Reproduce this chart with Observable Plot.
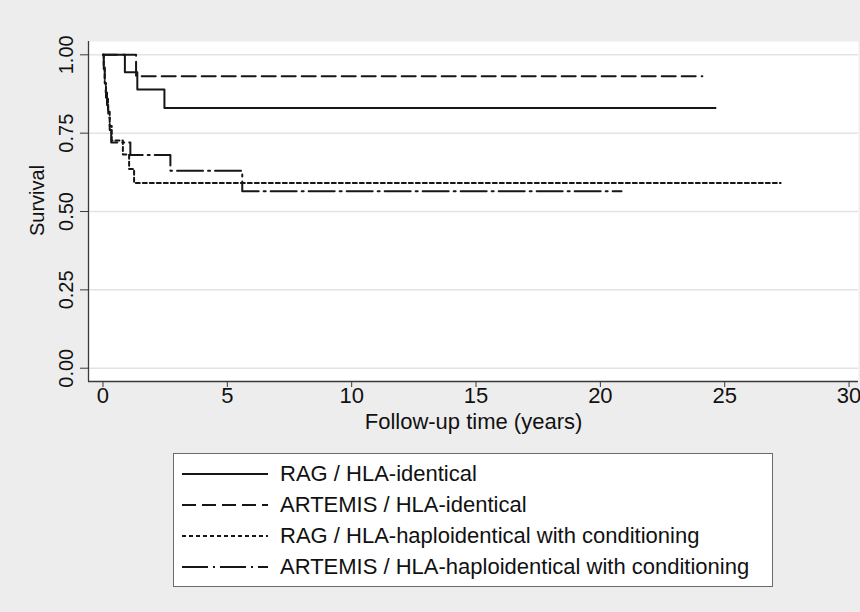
<!DOCTYPE html>
<html>
<head>
<meta charset="utf-8">
<script src="https://cdn.jsdelivr.net/npm/d3@7"></script>
<script src="https://cdn.jsdelivr.net/npm/@observablehq/plot@0.6"></script>
<style>
  html, body { margin: 0; padding: 0; background: #ededed; }
  body { font-family: "Liberation Sans", Arial, Helvetica, sans-serif; color: #111; }
  #wrap { position: relative; width: 860px; height: 612px; overflow: hidden; }
  #chart { position: absolute; left: 0; top: 0; }
  #legend { position: absolute; left: 173px; top: 453px; width: 598px; height: 132px;
            background: #ffffff; border: 1px solid #6a6a6a; }
  .row { position: absolute; left: 0; width: 598px; height: 30px; }
  .row svg { position: absolute; left: 8px; top: 13px; }
  .row span { position: absolute; left: 106px; top: 2px; font-size: 22px; line-height: 26px; white-space: nowrap; color: #111; }
</style>
</head>
<body>
<div id="wrap">
  <div id="chart"></div>
  <div id="legend"></div>
</div>
<script>
// ---- data ----
const seriesNames = [
  "RAG / HLA-identical",
  "ARTEMIS / HLA-identical",
  "RAG / HLA-haploidentical with conditioning",
  "ARTEMIS / HLA-haploidentical with conditioning"
];
const ragIdTime     = [0, 0.88, 1.38, 2.47, 24.63];
const ragIdSurv     = [1, 0.944, 0.889, 0.830, 0.830];
const artIdTime     = [0, 1.33, 24.10];
const artIdSurv     = [1, 0.932, 0.932];
const ragHaploTime  = [0, 0.03, 0.07, 0.12, 0.20, 0.27, 0.35, 0.80, 1.05, 1.25, 27.25];
const ragHaploSurv  = [1, 0.955, 0.909, 0.864, 0.818, 0.773, 0.727, 0.682, 0.636, 0.591, 0.591];
const artHaploTime  = [0, 0.03, 0.07, 0.11, 0.16, 0.21, 0.27, 0.33, 1.10, 2.71, 5.60, 20.85];
const artHaploSurv  = [1, 0.96, 0.92, 0.88, 0.84, 0.80, 0.76, 0.72, 0.68, 0.63, 0.565, 0.565];
const xTicks = [0, 5, 10, 15, 20, 25, 30];
const yTicks = [0, 0.25, 0.5, 0.75, 1];
const xTitle = "Follow-up time (years)";
const yTitle = "Survival";

// ---- styles ----
const dashes = [null, "14,6", "4,3", "26,5,2,5"];
const lineColor = "#161616";
const xDomain = [-0.583, 30.38];
const yDomain = [-0.0424, 1.0425];

const seriesData = [
  [ragIdTime, ragIdSurv],
  [artIdTime, artIdSurv],
  [ragHaploTime, ragHaploSurv],
  [artHaploTime, artHaploSurv]
].map(([t, s]) => t.map((v, i) => ({t: v, s: s[i]})));

const font = "'Liberation Sans', Arial, Helvetica, sans-serif";

const chart = Plot.plot({
  width: 860,
  height: 440,
  marginLeft: 88,
  marginRight: 2,
  marginTop: 41,
  marginBottom: 59,
  style: { background: "transparent", fontFamily: font, color: "#111", overflow: "visible" },
  x: { domain: xDomain },
  y: { domain: yDomain },
  marks: [
    Plot.frame({ fill: "white", stroke: null }),
    Plot.ruleY(yTicks, { stroke: "#e3e3e3", strokeWidth: 1.5 }),
    ...seriesData.map((d, i) => Plot.line(d, {
      x: "t", y: "s", curve: "step-after",
      stroke: lineColor, strokeWidth: 2,
      strokeDasharray: dashes[i] ?? undefined
    })),
    Plot.ruleX([xDomain[0]], { stroke: "#3a3a3a", strokeWidth: 1.3 }),
    Plot.ruleY([yDomain[0]], { stroke: "#3a3a3a", strokeWidth: 1.3 }),
    Plot.axisX(xTicks, { tickSize: 6, tickPadding: 0, fontSize: 22, label: null, stroke: "#3a3a3a", tickFormat: d => String(d) }),
    Plot.axisY(yTicks, { tickSize: 8, tickFormat: () => "", label: null, stroke: "#3a3a3a" }),
    Plot.text(yTicks, {
      y: d => d, frameAnchor: "left", dx: -22, rotate: -90,
      text: d => d3.format(".2f")(d), fontSize: 20, textAnchor: "middle", lineAnchor: "middle", fill: "#111"
    }),
    Plot.text([yTitle], {
      frameAnchor: "left", dx: -51, dy: -11, rotate: -90,
      text: d => d, fontSize: 20, textAnchor: "middle", lineAnchor: "middle", fill: "#111"
    }),
    Plot.text([xTitle], {
      frameAnchor: "bottom", dy: 40, text: d => d, fontSize: 22,
      textAnchor: "middle", lineAnchor: "middle", fill: "#111"
    })
  ]
});
document.getElementById("chart").appendChild(chart);

// ---- legend ----
const legend = document.getElementById("legend");
seriesNames.forEach((name, i) => {
  const row = document.createElement("div");
  row.className = "row";
  row.style.top = (5 + 31 * i) + "px";
  const dash = dashes[i] ? ` stroke-dasharray="${dashes[i]}"` : "";
  row.innerHTML = `<svg width="86" height="4"><line x1="0" y1="2" x2="86" y2="2" stroke="${lineColor}" stroke-width="2"${dash}/></svg><span>${name}</span>`;
  legend.appendChild(row);
});
</script>
</body>
</html>
